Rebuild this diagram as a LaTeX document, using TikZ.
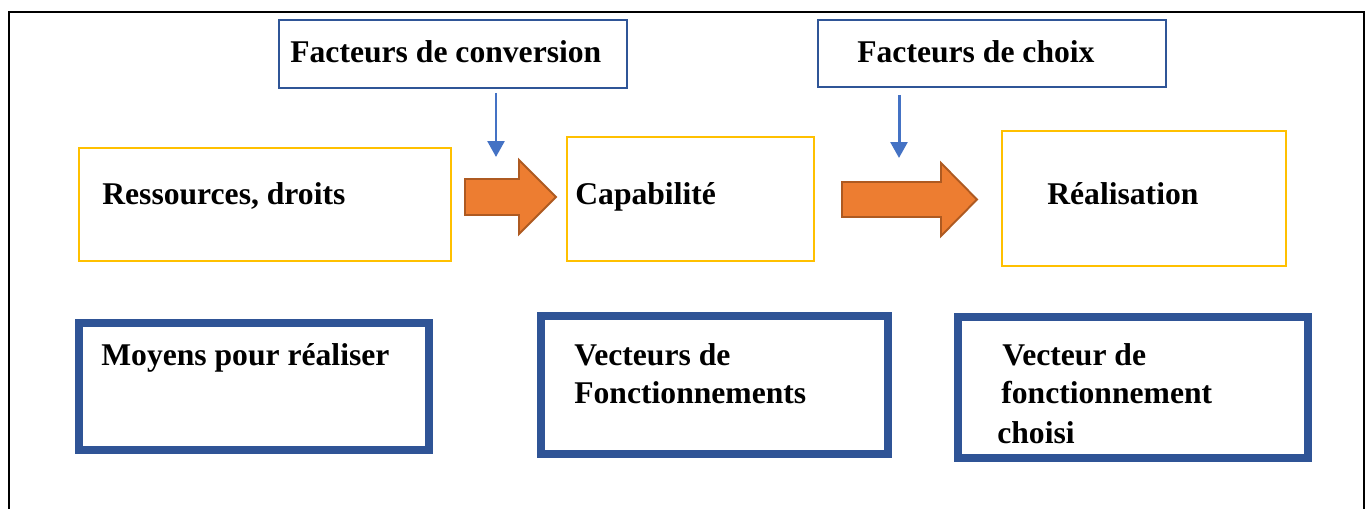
\documentclass[tikz,border=0pt]{standalone}
\usepackage{fontspec}
\setmainfont{Liberation Serif}
\usetikzlibrary{arrows.meta}
\definecolor{yelbox}{HTML}{FFC000}
\definecolor{thinblue}{HTML}{2F5597}
\definecolor{arrblue}{HTML}{4472C4}
\definecolor{orfill}{HTML}{ED7D31}
\definecolor{orline}{HTML}{AE5A21}
\definecolor{thickblue}{HTML}{2F5496}
\tikzset{
  px/.style={x=0.02cm,y=-0.02cm},
  thinbox/.style={draw=thinblue,line width=1.2pt,inner sep=0pt},
  yelbox/.style={draw=yelbox,line width=1.3pt,inner sep=0pt},
  thickbox/.style={draw=thickblue,line width=4.5pt,inner sep=0pt},
  lbl/.style={anchor=base west,inner sep=0pt,font=\bfseries\fontsize{18}{21.6}\selectfont},
  bluearrow/.style={draw=arrblue,line width=1.7pt,-{Triangle[width=9.5pt,length=9pt]}},
  bigarrow/.style={fill=orfill,draw=orline,line width=1.1pt,line join=miter}
}
\begin{document}
\begin{tikzpicture}[px]
\useasboundingbox (0,0) rectangle (1370,509);
\clip (0,0) rectangle (1370,509);
% outer frame
\draw[black,line width=1.5pt] (9,530) -- (9,12) -- (1364,12) -- (1364,530);
% boxes
\node[thinbox,minimum width=348*0.02cm,minimum height=68*0.02cm] (conv) at (453,54) {};
\node[thinbox,minimum width=348*0.02cm,minimum height=67*0.02cm] (choix) at (992,53.5) {};
\node[yelbox,minimum width=372*0.02cm,minimum height=113*0.02cm] (res) at (265,204.5) {};
\node[yelbox,minimum width=247*0.02cm,minimum height=124*0.02cm] (cap) at (690.5,199) {};
\node[yelbox,minimum width=284*0.02cm,minimum height=135*0.02cm] (real) at (1144,198.5) {};
\node[thickbox,minimum width=350*0.02cm,minimum height=127*0.02cm] (moy) at (254,386.5) {};
\node[thickbox,minimum width=347*0.02cm,minimum height=138*0.02cm] (vec) at (714.5,385) {};
\node[thickbox,minimum width=350*0.02cm,minimum height=141*0.02cm] (vch) at (1133,387.5) {};
% labels
\node[lbl] (tconv) at (290,63) {Facteurs de conversion};
\node[lbl] (tchoix) at (857,63) {Facteurs de choix};
\node[lbl] (tres) at (102,205) {Ressources, droits};
\node[lbl] (tcap) at (575,205) {Capabilité};
\node[lbl] (treal) at (1047,205) {Réalisation};
\node[lbl] (tmoy) at (101,366) {Moyens pour réaliser};
\node[lbl] (tvec1) at (574,366) {Vecteurs de};
\node[lbl] (tvec2) at (574,404) {Fonctionnements};
\node[lbl] (tvch1) at (1002,366) {Vecteur de};
\node[lbl] (tvch2) at (1001,404) {fonctionnement};
\node[lbl] (tvch3) at (997,444) {choisi};
% orange block arrows
\draw[bigarrow] (465,179) -- (519,179) -- (519,160) -- (556,197) -- (519,234) -- (519,215) -- (465,215) -- cycle;
\draw[bigarrow] (842,182) -- (941,182) -- (941,163) -- (977,199.5) -- (941,236) -- (941,217) -- (842,217) -- cycle;
% thin blue arrows
\coordinate (a1s) at (496,93);
\coordinate (a1e) at (496,157);
\coordinate (a2s) at (899,95);
\coordinate (a2e) at (899,158);
\draw[bluearrow] (a1s) -- (a1e);
\draw[bluearrow] (a2s) -- (a2e);
\end{tikzpicture}
\end{document}
